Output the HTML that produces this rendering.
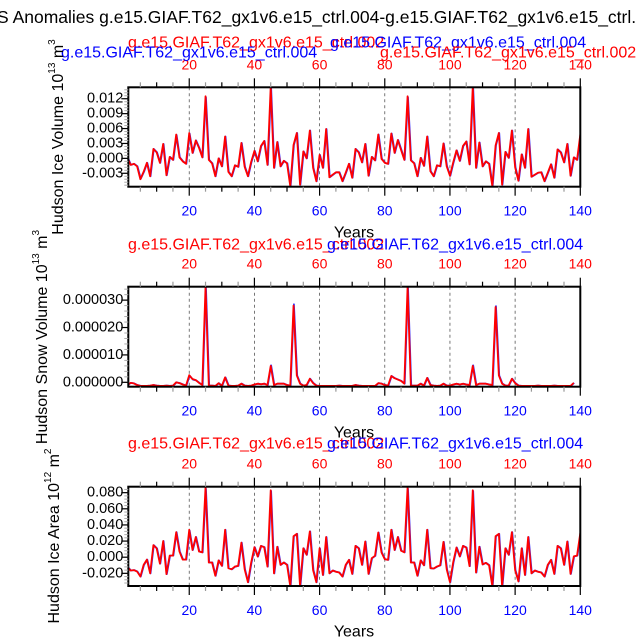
<!DOCTYPE html>
<html><head><meta charset="utf-8"><style>
html,body{margin:0;padding:0;background:#fff;overflow:hidden}
svg{display:block;font-family:"Liberation Sans",sans-serif}
</style></head><body>
<svg id="chart" width="638" height="638" viewBox="0 0 638 638">
<text x="-3" y="23" font-size="17.5" fill="#000">S Anomalies g.e15.GIAF.T62_gx1v6.e15_ctrl.004-g.e15.GIAF.T62_gx1v6.e15_ctrl.</text>
</svg>
<script>
const years = Array.from({length:140},(_,i)=>i+1);
const xTicks = [20,40,60,80,100,120,140];

const iceVolRed = [0.2,-1.3,-1.1,-1.6,-4.2,-2.7,-0.9,-3.6,1.9,1.2,-0.9,2.9,-3.4,0.3,-0.3,4.8,0.2,-0.6,-1.1,5.1,1.1,3.6,2.1,0.2,12.5,-0.3,-1.0,-3.6,0,-1.6,4.4,-2.7,-3.6,-1.4,-1.7,3.1,-1.7,-3.6,-0.7,1.5,-0.6,2.5,3.5,-1.3,14.5,-1.9,3.3,-1.6,-0.5,-1.0,-5.6,2.7,5.1,-5.3,1.4,0,5.6,-1.9,-4.6,0.7,-1.9,5.9,-3.8,-3.3,-2.8,-2.8,-4.6,-2.9,-1.1,-3.9,1.9,1.2,-0.8,2.9,-3.5,0.3,-0.4,4.8,-0.1,-0.9,-1.1,5.0,1.1,3.7,1.7,-0.3,12.5,-0.4,-1.0,-3.6,0.1,-1.5,4.4,-2.6,-3.6,-1.4,-1.6,3.0,-1.6,-3.5,-0.8,1.6,-0.5,2.5,3.4,-1.2,14.5,-1.9,3.2,-1.6,-0.6,-1.1,-5.6,2.6,5.1,-5.3,1.3,0.1,5.6,-1.8,-4.5,0.8,-1.9,5.9,-3.7,-3.3,-2.9,-2.8,-4.6,-2.9,-1.2,-3.9,1.8,1.2,-0.8,2.9,-3.5,0.2,-0.3,4.8];
const iceVolBlue = [0.2,-1.3,-1.1,-1.6,-4.1,-2.7,-0.9,-3.6,1.9,1.2,-0.9,2.9,-3.4,0.3,-0.3,4.7,0.2,-0.6,-1.1,5.0,1.1,3.6,2.1,0.2,12.3,-0.3,-1.0,-3.6,0,-1.6,4.4,-2.7,-3.6,-1.4,-1.7,3.1,-1.7,-3.6,-0.7,1.5,-0.6,2.5,3.5,-1.3,14.3,-1.9,3.3,-1.6,-0.5,-1.0,-5.5,2.7,5.1,-5.3,1.4,0,5.6,-1.9,-4.6,0.7,-1.9,5.9,-3.8,-3.3,-2.8,-2.8,-4.6,-2.9,-1.1,-3.9,1.9,1.2,-0.8,2.9,-3.5,0.3,-0.4,4.8,-0.1,-0.9,-1.1,5.0,1.1,3.7,1.7,-0.3,12.3,-0.4,-1.0,-3.6,0.1,-1.5,4.4,-2.6,-3.6,-1.4,-1.6,3.0,-1.6,-3.5,-0.8,1.6,-0.5,2.5,3.4,-1.2,14.3,-1.9,3.2,-1.6,-0.6,-1.1,-5.5,2.6,5.1,-5.3,1.3,0.1,5.6,-1.8,-4.5,0.8,-1.9,5.9,-3.7,-3.3,-2.9,-2.8,-4.6,-2.9,-1.2,-3.9,1.8,1.2,-0.8,2.9,-3.5,0.2,-0.3,4.8];
const iceVolTicks = [-3,0,3,6,9,12];
const iceVolTickLabels = ["-0.003","0.000","0.003","0.006","0.009","0.012"];

const snowRed = [-1.0,-0.2,-0.4,-1.0,-1.3,-1.3,-1.3,-1.2,-1.0,-1.2,-1.3,-1.3,-1.2,-1.3,-1.2,0.0,-0.3,-0.8,-1.2,2.6,1.2,0.8,-0.2,-1.0,35,-1.2,-1.2,-1.3,-0.3,-1.3,1.8,-1.2,-1.3,-1.3,-1.2,-0.5,-1.2,-1.3,-1.2,-0.8,-0.5,-0.7,-0.5,-1.0,6.0,-1.0,-0.5,-0.5,-0.5,-1.0,-1.2,28,2.5,-0.5,-1.2,-1.0,1.3,-0.3,-1.2,-1.3,-1.3,-1.3,-1.3,-1.3,-1.3,-1.2,-1.3,-1.3,-1.3,-1.3,-1.0,-1.2,-1.3,-1.3,-1.3,-1.3,-1.3,-0.3,-0.5,-1.0,-1.2,2.3,1.5,1.0,0.5,-0.5,35,-1.2,-1.2,-1.2,-0.5,-1.2,1.6,-1.0,-1.2,-1.3,-1.2,-0.5,-1.2,-1.2,-0.8,-0.5,-0.8,-0.5,-0.8,-1.0,6.0,-1.0,-0.5,-0.5,-0.5,-0.8,-1.0,27.5,2.5,-0.5,-1.2,-1.2,1.3,-0.3,-1.2,-1.3,-1.3,-1.3,-1.3,-1.3,-1.2,-1.3,-1.3,-1.3,-1.3,-1.2,-1.3,-1.3,-1.3,-1.3,-1.3,-0.2];
const snowBlue = [-1.0,-0.2,-0.4,-1.0,-1.3,-1.3,-1.3,-1.2,-1.0,-1.2,-1.3,-1.3,-1.2,-1.3,-1.2,0.0,-0.3,-0.8,-1.2,2.4,1.0,0.7,-0.2,-1.0,35,-1.2,-1.2,-1.3,-0.3,-1.3,1.8,-1.2,-1.3,-1.3,-1.2,-0.5,-1.2,-1.3,-1.2,-0.8,-0.5,-0.7,-0.5,-1.0,6.2,-1.0,-0.5,-0.5,-0.5,-1.0,-1.2,28.5,2.5,-0.5,-1.2,-1.0,1.3,-0.3,-1.2,-1.3,-1.3,-1.3,-1.3,-1.3,-1.3,-1.2,-1.3,-1.3,-1.3,-1.3,-1.0,-1.2,-1.3,-1.3,-1.3,-1.3,-1.3,-0.3,-0.5,-1.0,-1.2,2.3,1.5,1.0,0.5,-0.5,35,-1.2,-1.2,-1.2,-0.5,-1.2,1.6,-1.0,-1.2,-1.3,-1.2,-0.5,-1.2,-1.2,-0.8,-0.5,-0.8,-0.5,-0.8,-1.0,6.2,-1.0,-0.5,-0.5,-0.5,-0.8,-1.0,27.8,2.5,-0.5,-1.2,-1.2,1.3,-0.3,-1.2,-1.3,-1.3,-1.3,-1.3,-1.3,-1.2,-1.3,-1.3,-1.3,-1.3,-1.2,-1.3,-1.3,-1.3,-1.3,-1.3,-0.2];
const snowTicks = [0,10,20,30];
const snowTickLabels = ["0.000000","0.000010","0.000020","0.000030"];

const areaRed = [-12,-16.5,-16,-17.8,-24,-9.5,-3,-20,15,11,-8,20,-21,2,2,31,7,-3,-3,34,9,25,7,6,87,-6.6,-6.6,-23,-4,-10.7,34,-13.6,-15,-11.6,-10.7,18,-15,-31,-6.6,12.4,0.8,14,12.4,-11.6,83,-20,13,-9.5,-6.6,-9.5,-36,26,29,-36,11,3,32,-16,-31,11,-22,25,-20,-16.5,-18,-19,-24,-9.5,-3.3,-20.7,14,11,-9.5,19.4,-20.7,-1.2,1.7,30.6,5.8,-2.5,-3.3,34,9,25,8,6,87,-6.6,-6.6,-23,-4,-10,34,-13.6,-14,-11.6,-10,19,-15,-31,-6,12,1,14,12,-11,83,-19,13,-9,-7,-10,-36,26,29,-36,11,3,31,-16,-30,11,-22,25,-20,-16.5,-18,-19,-24,-9.5,-3.3,-20.7,14,11,-9.5,19.4,-20.7,1,2,30];
const areaBlue = [-12,-16.5,-16,-17.8,-24,-9.5,-3,-20,15,11,-8,20,-21,2,2,31,7,-3,-3,33,9,25,7,6,85,-6.6,-6.6,-23,-4,-10.7,34,-13.6,-15,-11.6,-10.7,18,-15,-31,-6.6,12.4,0.8,14,12.4,-11.6,82,-20,13,-9.5,-6.6,-9.5,-36,26,29,-36,11,3,32,-16,-31,11,-22,25,-20,-16.5,-18,-19,-24,-9.5,-3.3,-20.7,14,11,-9.5,19.4,-20.7,-1.2,1.7,30.6,5.8,-2.5,-3.3,34,9,25,8,6,85,-6.6,-6.6,-23,-4,-10,34,-13.6,-14,-11.6,-10,19,-15,-31,-6,12,1,14,12,-11,82,-19,13,-9,-7,-10,-36,26,29,-36,11,3,31,-16,-30,11,-22,25,-20,-16.5,-18,-19,-24,-9.5,-3.3,-20.7,14,11,-9.5,19.4,-20.7,1,2,30];
const areaTicks = [-20,0,20,40,60,80];
const areaTickLabels = ["-0.020","0.000","0.020","0.040","0.060","0.080"];

const NS='http://www.w3.org/2000/svg';
const svg=document.getElementById('chart');
const L=128.3,R=580.3;
function xs(y){return L+(y-1.3)*(R-L)/(140-1.3);}
function mk(tag,attrs,parent){const e=document.createElementNS(NS,tag);for(const k in attrs)e.setAttribute(k,attrs[k]);(parent||svg).appendChild(e);return e;}
function txt(s,x,y,size,fill,anchor,parent){const t=mk('text',{x:x,y:y,'font-size':size,fill:fill,'text-anchor':anchor||'start','dominant-baseline':'central'},parent);t.textContent=s;return t;}

function panel(cfg){
  const g=mk('g',{});
  
  
  const T=cfg.top,B=cfg.bottom;
  function ys(v){return B-(v-cfg.vmin)*(B-T)/(cfg.vmax-cfg.vmin);}
  const cid='clip-'+cfg.name;
  const cp=mk('clipPath',{id:cid},g);mk('rect',{x:L,y:T,width:R-L,height:B-T},cp);
  for(const t of xTicks){if(t>=140)continue;
    const gl=mk('line',{x1:xs(t),x2:xs(t),y1:T,y2:B,stroke:'#555','stroke-width':0.8,'stroke-dasharray':'3,3'},g);
    
    
  }
  const series=[[cfg.blue,'#3030ff','series-ctrl-004',0.4],[cfg.red,'#ff0000','series-ctrl-002',0]];
  for(const [arr,col,nm,dx] of series){
    const pts=arr.map((v,i)=>(xs(years[i])+dx).toFixed(2)+','+ys(v).toFixed(2)).join(' ');
    const pl=mk('polyline',{points:pts,fill:'none',stroke:col,'stroke-width':1.8,'stroke-linejoin':'round','clip-path':'url(#'+cid+')'},g);
    
    
  }
  const bx=mk('rect',{x:L,y:T,width:R-L,height:B-T,fill:'none',stroke:'#000','stroke-width':2},g);
  
  
  for(let yr=5;yr<=140;yr+=5){
    const major=yr%20===0, len=major?9:5, col=(yr%10===0||major)?'#000':'#999';
    mk('line',{x1:xs(yr),x2:xs(yr),y1:T,y2:T-len,stroke:col,'stroke-width':1.2},g);
    mk('line',{x1:xs(yr),x2:xs(yr),y1:B,y2:B+len,stroke:col,'stroke-width':1.2},g);
  }
  for(const t of xTicks){
    const a=txt(String(t),xs(t),T-23,14,'#ff0000','middle',g);
    
    
    const b=txt(String(t),xs(t),B+24,14,'#0000ff','middle',g);
    
    
  }
  const step=cfg.ticks[1]-cfg.ticks[0];
  for(let v=cfg.ticks[0]-step;v<=cfg.vmax;v+=step/5){
    if(v<cfg.vmin-1e-9)continue;
    mk('line',{x1:L,x2:L-4,y1:ys(v),y2:ys(v),stroke:'#aaa','stroke-width':1},g);
  }
  cfg.ticks.forEach((v,i)=>{
    mk('line',{x1:L,x2:L-7,y1:ys(v),y2:ys(v),stroke:'#000','stroke-width':1.2},g);
    const t=txt(cfg.tickLabels[i],L-5,ys(v),14.5,'#000','end',g);
    
    
  });
  return g;
}

panel({name:'ice-volume-panel',top:87.3,bottom:186.7,vmin:-5.7,vmax:14.3,red:iceVolRed,blue:iceVolBlue,ticks:iceVolTicks,tickLabels:iceVolTickLabels});
panel({name:'snow-volume-panel',top:286.7,bottom:386.7,vmin:-1.6,vmax:34.9,red:snowRed,blue:snowBlue,ticks:snowTicks,tickLabels:snowTickLabels});
panel({name:'ice-area-panel',top:486.7,bottom:586,vmin:-35.7,vmax:87.4,red:areaRed,blue:areaBlue,ticks:areaTicks,tickLabels:areaTickLabels});

function sub(s,x,y,col,nm){const t=txt(s,x,y,16,col,'start');}
sub('g.e15.GIAF.T62_gx1v6.e15_ctrl.002',128,43,'#ff0000','left-title-ctrl-002');
sub('g.e15.GIAF.T62_gx1v6.e15_ctrl.004',330,43,'#0000ff','right-title-ctrl-004');
sub('g.e15.GIAF.T62_gx1v6.e15_ctrl.004',61,53,'#0000ff','left-title-ctrl-004');
sub('g.e15.GIAF.T62_gx1v6.e15_ctrl.002',380,53,'#ff0000','right-title-ctrl-002');
sub('g.e15.GIAF.T62_gx1v6.e15_ctrl.002',128,245,'#ff0000','left-title-ctrl-002');
sub('g.e15.GIAF.T62_gx1v6.e15_ctrl.004',327,245,'#0000ff','right-title-ctrl-004');
sub('g.e15.GIAF.T62_gx1v6.e15_ctrl.002',128,444,'#ff0000','left-title-ctrl-002');
sub('g.e15.GIAF.T62_gx1v6.e15_ctrl.004',327,444,'#0000ff','right-title-ctrl-004');

for(const y of [233,433,632]){const t=txt('Years',354,y,16,'#000','middle');}

function ytitle(base,sup1,unit,sup2,x,y,nm){
  const t=mk('text',{x:0,y:0,'font-size':16,fill:'#000','text-anchor':'middle','dominant-baseline':'central',transform:'translate('+x+','+y+') rotate(-90)'});
  
  
  const a=document.createElementNS(NS,'tspan');a.textContent=base;t.appendChild(a);
  const b=document.createElementNS(NS,'tspan');b.setAttribute('font-size','10');b.setAttribute('dy','-6');b.textContent=sup1;t.appendChild(b);
  const c=document.createElementNS(NS,'tspan');c.setAttribute('dy','6');c.textContent=unit;t.appendChild(c);
  const d=document.createElementNS(NS,'tspan');d.setAttribute('font-size','10');d.setAttribute('dy','-6');d.textContent=sup2;t.appendChild(d);
}
ytitle('Hudson Ice Volume 10','13',' m','3',58,137,'y-axis-title-ice-volume');
ytitle('Hudson Snow Volume 10','13',' m','3',42,337,'y-axis-title-snow-volume');
ytitle('Hudson Ice Area 10','12',' m','2',54,536,'y-axis-title-ice-area');
</script>
</body></html>
